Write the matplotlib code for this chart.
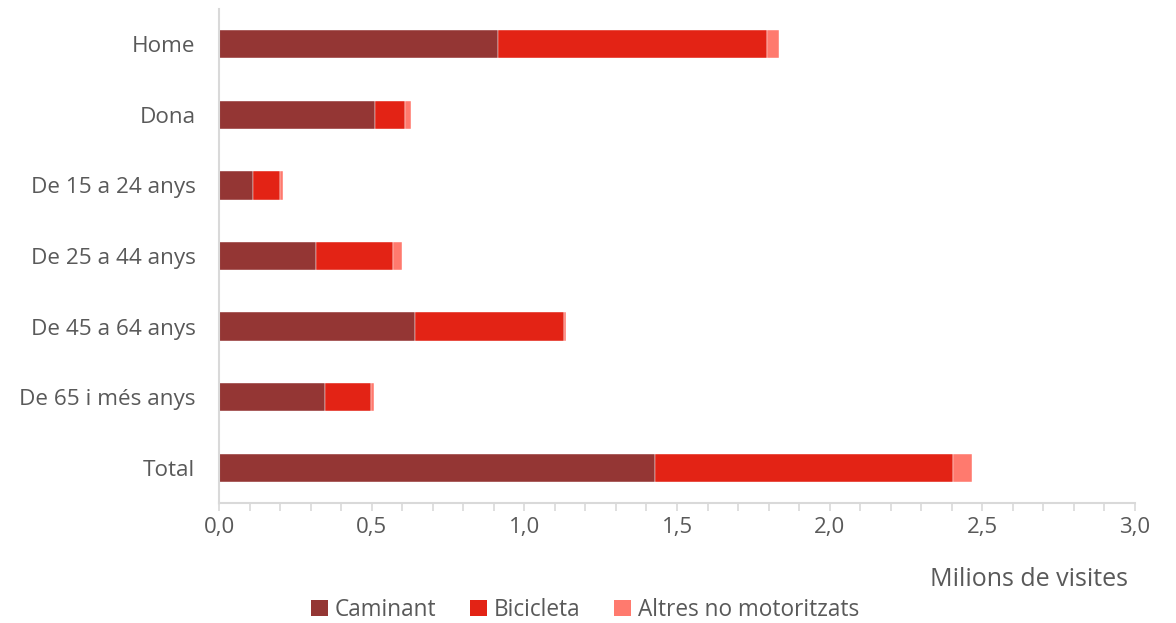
import matplotlib
matplotlib.use("Agg")
import matplotlib.pyplot as plt
import numpy as np
from matplotlib.ticker import MultipleLocator, FuncFormatter
from matplotlib.patches import Patch

categories = ["Home", "Dona", "De 15 a 24 anys", "De 25 a 44 anys",
              "De 45 a 64 anys", "De 65 i més anys", "Total"]
caminant = [0.914, 0.511, 0.111, 0.318, 0.642, 0.347, 1.428]
bicicleta = [0.881, 0.098, 0.089, 0.252, 0.488, 0.151, 0.976]
altres = [0.039, 0.020, 0.010, 0.029, 0.005, 0.010, 0.062]
series_names = ["Caminant", "Bicicleta", "Altres no motoritzats"]
colors = ["#943634", "#E32315", "#FF7A6E"]

plt.rcParams['font.family'] = ['Open Sans', 'DejaVu Sans']
txt = "#595959"

fig = plt.figure(figsize=(11.76, 6.23), dpi=100)
ax = fig.add_axes([219/1176, 1-503/623, (1135-219)/1176, (503-9)/623])

y = np.arange(len(categories))
left = np.zeros(len(categories))
for vals, c in zip([caminant, bicicleta, altres], colors):
    ax.barh(y, vals, left=left, height=0.4, color=c, edgecolor="white", linewidth=0.3)
    left += np.array(vals)

ax.set_ylim(len(categories)-0.5, -0.5)
ax.set_xlim(0, 3.0)
ax.set_yticks(y)
ax.set_yticklabels(categories, fontsize=16.2, color=txt)
ax.xaxis.set_major_locator(MultipleLocator(0.5))
ax.xaxis.set_minor_locator(MultipleLocator(0.1))
ax.xaxis.set_major_formatter(FuncFormatter(lambda v, p: f"{v:.1f}".replace(".", ",")))
ax.tick_params(axis='x', which='both', colors="#d9d9d9", labelcolor=txt, labelsize=16,
               direction='out', length=6, width=1.2, pad=4)
ax.tick_params(axis='y', length=0, pad=17)
for s in ["top", "right"]:
    ax.spines[s].set_visible(False)
ax.spines["left"].set_color("#d9d9d9")
ax.spines["left"].set_linewidth(1.5)
ax.spines["bottom"].set_color("#d9d9d9")
ax.spines["bottom"].set_linewidth(1.5)

fig.text(1128/1176, 1-580/623, "Milions de visites", ha="right", va="center",
         fontsize=18, color=txt)

handles = [Patch(facecolor=c, edgecolor="none") for c in colors]
fig.legend(handles, series_names, loc="center", bbox_to_anchor=(585/1176, 1-610/623),
           ncol=3, frameon=False, fontsize=16.3, labelcolor=txt,
           handlelength=0.75, handleheight=0.75, handletextpad=0.3, columnspacing=1.5)

fig.savefig("out.png", dpi=100)
